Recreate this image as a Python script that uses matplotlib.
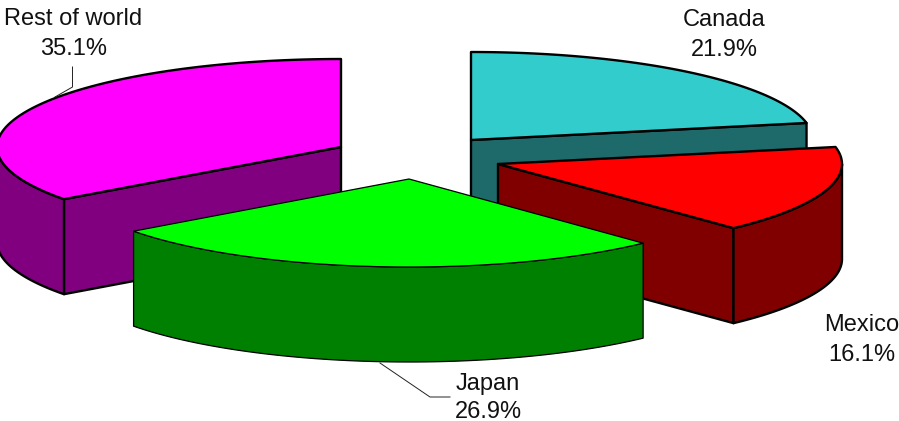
import numpy as np
import matplotlib
matplotlib.use("Agg")
import matplotlib.pyplot as plt
from matplotlib.patches import Polygon

labels = ['Canada', 'Mexico', 'Japan', 'Rest of world']
shares = [21.9, 16.1, 26.9, 35.1]

top_colors = ['#33CCCC', '#FF0000', '#00FF00', '#FF00FF']
side_colors = ['#1E6A6A', '#800000', '#008000', '#800080']
centers = [(471, 140), (498, 164), (409, 179), (341, 147)]
radii_x = [342, 344, 342, 344]
edge_widths = [1.7, 1.7, 0.9, 1.7]
# x centre, first line baseline, second line baseline
label_pos = [(724.5, 26, 56.5), (862, 331, 361), (488, 390, 418.5), (73.5, 25, 55)]

RY = 88    # vertical radius of the pie top
DEPTH = 95

plt.rcParams['font.family'] = ['Liberation Sans', 'DejaVu Sans']

fig = plt.figure(figsize=(8.99, 4.21), dpi=100)
ax = fig.add_axes([0, 0, 1, 1])
ax.set_xlim(0, 899)
ax.set_ylim(421, 0)
ax.axis('off')


# angles run clockwise from 12 o'clock, in degrees
def rim(center, rx, a0, a1, n=80):
    t = np.radians(np.linspace(a0, a1, n))
    return np.column_stack([center[0] + rx*np.sin(t), center[1] - RY*np.cos(t)])


def add_poly(pts, color, lw, z):
    ax.add_patch(Polygon(pts, closed=True, facecolor=color, edgecolor='black',
                         linewidth=lw, joinstyle='round', zorder=z))


def draw_slice(i, a0, a1, z):
    c = np.array(centers[i], dtype=float)
    rx = radii_x[i]
    down = np.array([0, DEPTH])
    lw = edge_widths[i]
    col = side_colors[i]

    # radial walls, only the ones that face the viewer
    if a1 < 180:
        p = rim(c, rx, a1, a1, 1)[0]
        add_poly([c, p, p + down, c + down], col, lw, z)
    if a0 > 180:
        p = rim(c, rx, a0, a0, 1)[0]
        add_poly([c, p, p + down, c + down], col, lw, z)

    # outer wall on the front half of the ellipse
    lo, hi = max(a0, 90), min(a1, 270)
    if lo < hi:
        r = rim(c, rx, lo, hi)
        add_poly(np.vstack([r, (r + down)[::-1]]), col, lw, z)

    # top face
    add_poly(np.vstack([c, rim(c, rx, a0, a1)]), top_colors[i], lw, z + 0.5)


edges = np.concatenate([[0], np.cumsum(shares)]) / sum(shares) * 360
# back slices first so the front ones cover them
for z, i in enumerate([0, 3, 1, 2]):
    draw_slice(i, edges[i], edges[i + 1], z + 1)

# leader lines
ax.plot([72.5, 72.5, 55], [67, 87, 97], color='#222222', lw=0.7, zorder=3.2)
ax.plot([380, 430, 450], [363, 397, 397], color='#222222', lw=0.7, zorder=6)

for name, val, (x, y1, y2) in zip(labels, shares, label_pos):
    ax.text(x, y1, name, ha='center', va='baseline', fontsize=17, color='#111111', zorder=7)
    ax.text(x, y2, f'{val}%', ha='center', va='baseline', fontsize=17, color='#111111', zorder=7)

fig.savefig('out.png', dpi=100)
